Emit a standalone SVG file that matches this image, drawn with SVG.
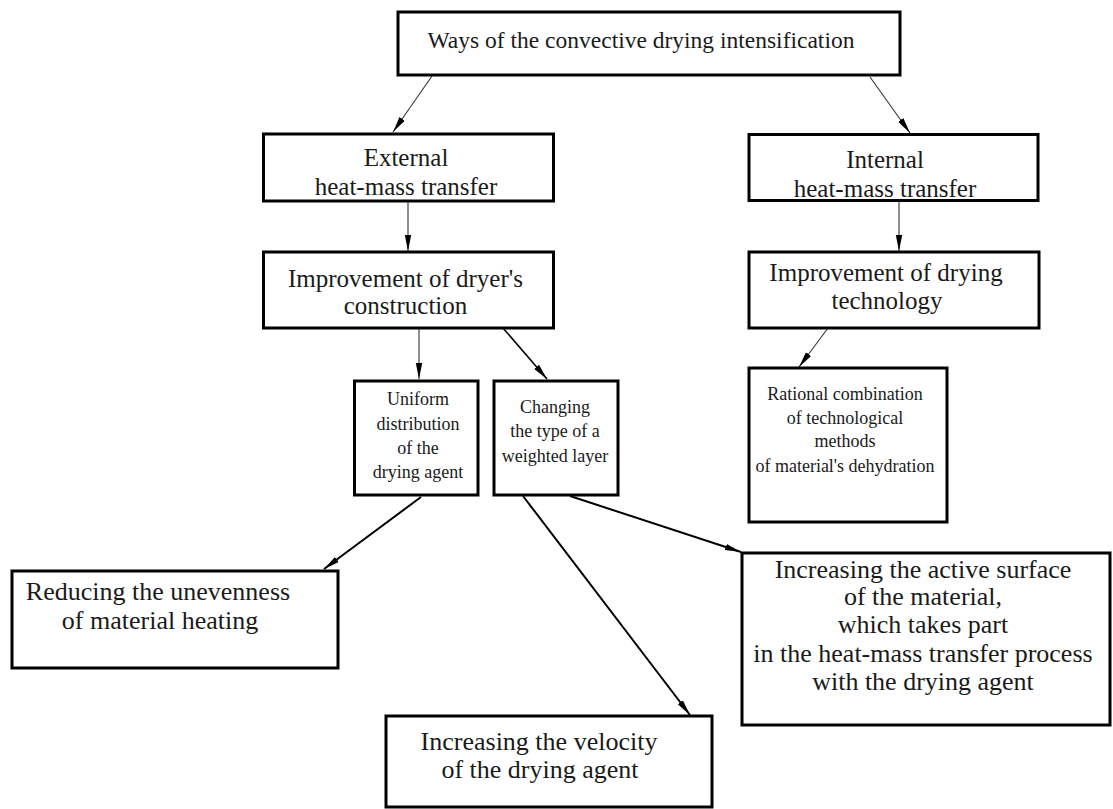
<svg xmlns="http://www.w3.org/2000/svg" width="1113" height="809" viewBox="0 0 1113 809">
<style>
.box{fill:#fff;stroke:#000;stroke-width:3}
.t{font-family:"Liberation Serif","Times New Roman",serif;fill:#1a1a1a;text-anchor:middle}
.big{font-size:25px}
.sm{font-size:18px}
.thin{stroke:#333;stroke-width:1.1;fill:none}
.thick{stroke:#000;stroke-width:2;fill:none}
</style>
<defs>
<marker id="ah" markerUnits="userSpaceOnUse" markerWidth="18" markerHeight="10" refX="16" refY="4" orient="auto">
<path d="M0,0.8 L16,4 L0,7.2 Z" fill="#000"/>
</marker>
</defs>
<rect width="1113" height="809" fill="#fff"/>
<g id="connectors">
<line class="thin" x1="432" y1="76" x2="393" y2="132" marker-end="url(#ah)"/>
<line class="thin" x1="870" y1="77" x2="910" y2="133" marker-end="url(#ah)"/>
<line class="thin" x1="408" y1="201" x2="408" y2="251" marker-end="url(#ah)"/>
<line class="thin" x1="899" y1="201" x2="899" y2="251" marker-end="url(#ah)"/>
<line class="thin" x1="419" y1="328" x2="419" y2="379" marker-end="url(#ah)"/>
<line class="thin" style="stroke-width:1.6;stroke:#000" x1="503" y1="328" x2="547" y2="379" marker-end="url(#ah)"/>
<line class="thin" x1="828" y1="328" x2="799" y2="367" marker-end="url(#ah)"/>
<line class="thick" x1="421" y1="497" x2="324" y2="569" marker-end="url(#ah)"/>
<line class="thick" x1="523" y1="496" x2="690" y2="715" marker-end="url(#ah)"/>
<line class="thick" x1="570" y1="496" x2="741" y2="552" marker-end="url(#ah)"/>
</g>
<g id="n-top">
<rect class="box" x="398" y="12" width="502" height="63"/>
<text class="t" x="641" y="48" style="font-size:23.5px">Ways of the convective drying intensification</text>
</g>
<g id="n-external">
<rect class="box" x="263.5" y="134" width="290" height="67"/>
<text class="t big" x="406" y="166">External</text>
<text class="t big" x="406" y="195">heat-mass transfer</text>
</g>
<g id="n-internal">
<rect class="box" x="749" y="134.5" width="289" height="66"/>
<text class="t big" x="885" y="168">Internal</text>
<text class="t big" x="885" y="197">heat-mass transfer</text>
</g>
<g id="n-dryer">
<rect class="box" x="263.5" y="252" width="290" height="76"/>
<text class="t big" x="405.5" y="287">Improvement of dryer's</text>
<text class="t big" x="405.5" y="314">construction</text>
</g>
<g id="n-technology">
<rect class="box" x="749" y="252" width="290" height="76"/>
<text class="t big" x="886" y="281">Improvement of drying</text>
<text class="t big" x="887" y="309">technology</text>
</g>
<g id="n-uniform">
<rect class="box" x="354.5" y="381" width="123.5" height="114"/>
<text class="t sm" x="418" y="405">Uniform</text>
<text class="t sm" x="418" y="430">distribution</text>
<text class="t sm" x="418" y="454">of the</text>
<text class="t sm" x="418" y="478">drying agent</text>
</g>
<g id="n-changing">
<rect class="box" x="494" y="381" width="124" height="114"/>
<text class="t sm" x="555" y="413">Changing</text>
<text class="t sm" x="555" y="437">the type of a</text>
<text class="t sm" x="555" y="461.5">weighted layer</text>
</g>
<g id="n-rational">
<rect class="box" x="749" y="368" width="198" height="154"/>
<text class="t sm" x="845" y="400">Rational combination</text>
<text class="t sm" x="845" y="423.5">of technological</text>
<text class="t sm" x="845" y="447">methods</text>
<text class="t sm" x="845" y="472">of material's dehydration</text>
</g>
<g id="n-reducing">
<rect class="box" x="12" y="571" width="326" height="97"/>
<text class="t" x="158" y="600" style="font-size:26px">Reducing the unevenness</text>
<text class="t" x="160" y="629" style="font-size:26px">of material heating</text>
</g>
<g id="n-velocity">
<rect class="box" x="386" y="716" width="326" height="91"/>
<text class="t" x="539" y="750" style="font-size:26px">Increasing the velocity</text>
<text class="t" x="540" y="778" style="font-size:26px">of the drying agent</text>
</g>
<g id="n-active">
<rect class="box" x="742" y="553" width="368" height="172"/>
<text class="t" x="923" y="578" style="font-size:26px">Increasing the active surface</text>
<text class="t" x="923" y="605" style="font-size:26px">of the material,</text>
<text class="t" x="923" y="633" style="font-size:26px">which takes part</text>
<text class="t" x="923" y="662" style="font-size:26px">in the heat-mass transfer process</text>
<text class="t" x="923" y="690" style="font-size:26px">with the drying agent</text>
</g>
</svg>
